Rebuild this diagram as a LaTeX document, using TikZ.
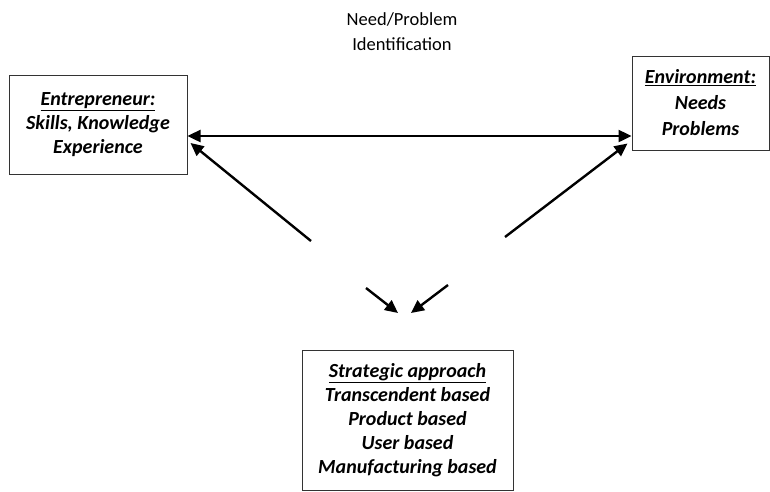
\documentclass[tikz,border=0pt]{standalone}
\usepackage{fontspec}
\setmainfont{Carlito}
\usetikzlibrary{arrows.meta,positioning}
\tikzset{
  box/.style={draw=black!80, line width=1pt, inner sep=0pt, align=center,
    font=\fontsize{20}{24}\selectfont\bfseries\itshape},
  arr/.style={line width=2.4pt, -{Triangle[length=13pt,width=12pt]}},
}

\begin{document}
\begin{tikzpicture}[x=1pt,y=-1pt]
  \useasboundingbox (0,0) rectangle (770,491);
  % Define nodes
  \node[box, minimum width=178pt, minimum height=99pt] (ent) at (98,124.5)
    {\underline{Entrepreneur:}\\Skills, Knowledge\\Experience};
  \node[box, minimum width=137pt, minimum height=94pt] (env) at (700.5,103)
    {\underline{Environment:}\\[2pt]Needs\\[2pt]Problems};
  \node[box, minimum width=211pt, minimum height=140pt] (strat) at (407.5,420)
    {\underline{Strategic approach}\\Transcendent based\\Product based\\User based\\Manufacturing based};
  \node[align=center, font=\fontsize{18.5}{25}\selectfont] (need) at (402,32)
    {Need/Problem\\Identification};
  % Define free ends
  \coordinate (lfoot) at (311,241);
  \coordinate (rfoot) at (505,237);
  \coordinate (lsmall) at (366,288);
  \coordinate (rsmall) at (448,285);
  \coordinate (meet) at (404,313);
  % Define edges
  \draw[arr, {Triangle[length=13pt,width=12pt]}-{Triangle[length=13pt,width=12pt]}]
    ([yshift=-11.5pt]ent.east) -- ([yshift=-33pt]env.west);
  \draw[arr] (lfoot) -- ([xshift=3pt,yshift=-18.5pt]ent.east);
  \draw[arr] (rfoot) -- ([xshift=-4pt,yshift=7pt]env.south west);
  \draw[arr] (lsmall) -- ([xshift=-6pt]meet);
  \draw[arr] (rsmall) -- ([xshift=7pt]meet);
\end{tikzpicture}
\end{document}
